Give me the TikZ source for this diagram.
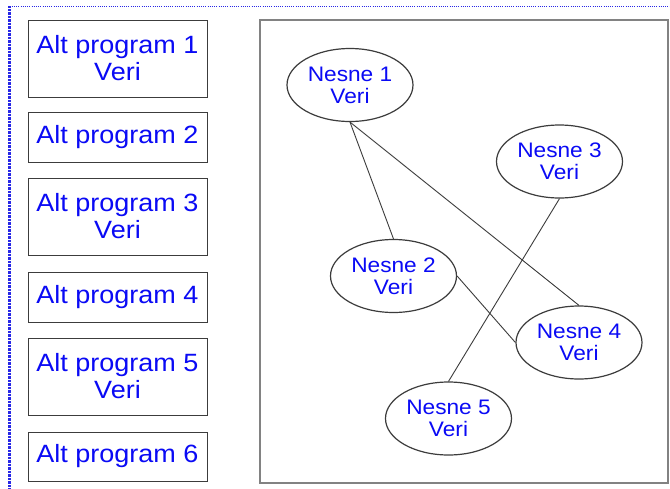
\documentclass[tikz,border=0pt]{standalone}
\usepackage{fontspec}
\setmainfont[FakeStretch=1.08]{Liberation Sans}
\usetikzlibrary{shapes.geometric}
\definecolor{txtblue}{RGB}{10,10,245}
\definecolor{frameblue}{RGB}{40,40,230}
\definecolor{edgegray}{RGB}{60,60,60}
\definecolor{panelgray}{RGB}{130,130,130}
\tikzset{
  progbox/.style={draw=edgegray, line width=1pt, fill=white, minimum width=179pt,
    inner sep=0pt, align=center, text=txtblue,
    font=\fontsize{25}{27}\selectfont},
  objnode/.style={draw=edgegray, ellipse, line width=1.2pt, fill=white,
    minimum width=126pt, minimum height=73pt, inner sep=0pt, align=center,
    text=txtblue, font=\fontsize{21}{22}\selectfont},
  link/.style={draw=edgegray, line width=0.9pt}
}
\begin{document}
\begin{tikzpicture}[x=1pt,y=-1pt]
  \useasboundingbox (0,0) rectangle (670,488);
  \fill[white] (0,0) rectangle (670,488);
  % dotted page frame
  \coordinate (ftl) at (9.5,6);
  \coordinate (ftr) at (670,6);
  \coordinate (fbl) at (9.5,488);
  \draw[frameblue, line width=0.9pt, dash pattern=on 1pt off 1.2pt] (ftl) -- (ftr);
  \draw[frameblue, line width=2.4pt, dash pattern=on 0.9pt off 0.5pt] (ftl) -- (fbl);
  % object panel
  \draw[panelgray, line width=1.5pt] (260,20) rectangle (668,483);
  % subprogram boxes
  \node[progbox, minimum height=77pt] (p1) at (117.5,58.5) {Alt program 1\\Veri};
  \node[progbox, minimum height=50pt] (p2) at (117.5,137) {Alt program 2};
  \node[progbox, minimum height=77pt] (p3) at (117.5,216.5) {Alt program 3\\Veri};
  \node[progbox, minimum height=50pt] (p4) at (117.5,297) {Alt program 4};
  \node[progbox, minimum height=77pt] (p5) at (117.5,376.5) {Alt program 5\\Veri};
  \node[progbox, minimum height=49pt] (p6) at (117.5,456.5) {Alt program 6};
  % objects
  \node[objnode] (n1) at (350,85) {Nesne 1\\Veri};
  \node[objnode] (n2) at (393.5,276) {Nesne 2\\Veri};
  \node[objnode] (n3) at (559.5,161.5) {Nesne 3\\Veri};
  \node[objnode] (n4) at (579,342.5) {Nesne 4\\Veri};
  \node[objnode] (n5) at (448.5,418.5) {Nesne 5\\Veri};
  % links between objects
  \draw[link] (n1.south) -- (n2.north);
  \draw[link] (n1.south) -- (n4.north);
  \draw[link] (n3.south) -- (n5.north);
  \draw[link] (n2.east) -- (n4.west);
\end{tikzpicture}
\end{document}
